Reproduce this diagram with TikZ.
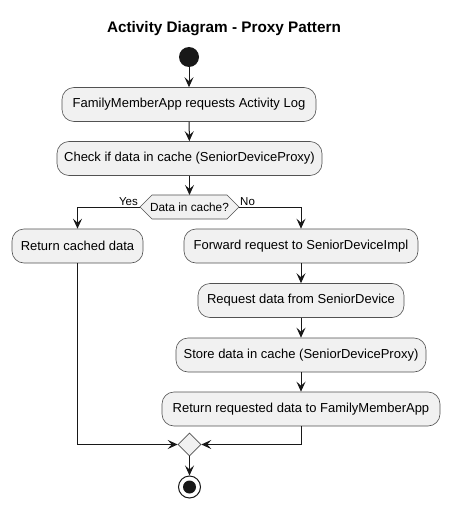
\documentclass[tikz,border=0pt]{standalone}
\usepackage{fontspec}
\setmainfont{Liberation Sans}
\usetikzlibrary{arrows.meta,shapes.geometric}
\definecolor{boxfill}{HTML}{F1F1F1}
\definecolor{lin}{HTML}{181818}
\tikzset{
  act/.style={draw=lin!75, line width=0.6pt, fill=boxfill, rounded corners=12pt,
    minimum height=34pt, inner sep=0pt, font=\fontsize{13}{15}\selectfont, text=black},
  conn/.style={draw=lin, line width=1pt, -{Stealth[length=10pt,width=9pt,inset=4pt]}},
  lbl/.style={font=\fontsize{11.5}{13}\selectfont, inner sep=0pt}
}
\begin{document}
\begin{tikzpicture}[x=1pt,y=-1pt]
\useasboundingbox[fill=white] (0,0) rectangle (450,508);
\node[font=\bfseries\fontsize{15.3}{17}\selectfont] (title) at (224,29) {Activity Diagram - Proxy Pattern};
\node[circle, fill=lin, minimum size=20pt, inner sep=0pt] (start) at (189,57) {};
\node[act, minimum width=254pt] (a1) at (189,104.5) {FamilyMemberApp requests Activity Log};
\node[act, minimum width=265pt] (a2) at (189.5,158.5) {Check if data in cache (SeniorDeviceProxy)};
% decision hexagon
\draw[draw=lin!75, line width=0.6pt, fill=boxfill] (140,207) -- (152,195) -- (227,195) -- (239,207) -- (227,219) -- (152,219) -- cycle;
\node[lbl, font=\fontsize{11.8}{14}\selectfont] (dec) at (189.5,207.5) {Data in cache?};
\coordinate (dtop) at (189.5,195);
\coordinate (dl) at (140,207);
\coordinate (dr) at (239,207);
\node[lbl, anchor=base east] (yes) at (138,205) {Yes};
\node[lbl, anchor=base west] (no) at (240,205) {No};
\node[act, minimum width=131pt] (a3) at (77.5,246) {Return cached data};
\node[act, minimum width=234pt] (a4) at (301,246) {Forward request to SeniorDeviceImpl};
\node[act, minimum width=206pt] (a5) at (301,300.5) {Request data from SeniorDevice};
\node[act, minimum width=250pt] (a6) at (301,355) {Store data in cache (SeniorDeviceProxy)};
\node[act, minimum width=278pt] (a7) at (301,409) {Return requested data to FamilyMemberApp};
\node[diamond, draw=lin!75, line width=0.6pt, fill=boxfill, minimum width=23pt, minimum height=23pt, inner sep=0pt] (m) at (189.5,444.5) {};
\node[circle, draw=lin, line width=1pt, fill=white, minimum size=22pt, inner sep=0pt] (end) at (189.5,487) {};
\node[circle, fill=lin, minimum size=13pt, inner sep=0pt] (endin) at (189.5,487) {};
\draw[conn] (start) -- (a1);
\draw[conn] (a1) -- (a2);
\draw[conn] (a2) -- (dtop);
\draw[conn] (dl) -| (a3.north);
\draw[conn] (dr) -| (a4.north);
\draw[conn] (a4) -- (a5);
\draw[conn] (a5) -- (a6);
\draw[conn] (a6) -- (a7);
\draw[conn] (a3.south) |- (m.west);
\draw[conn] (a7.south) |- (m.east);
\draw[conn] (m.south) -- (end.north);
\end{tikzpicture}
\end{document}
